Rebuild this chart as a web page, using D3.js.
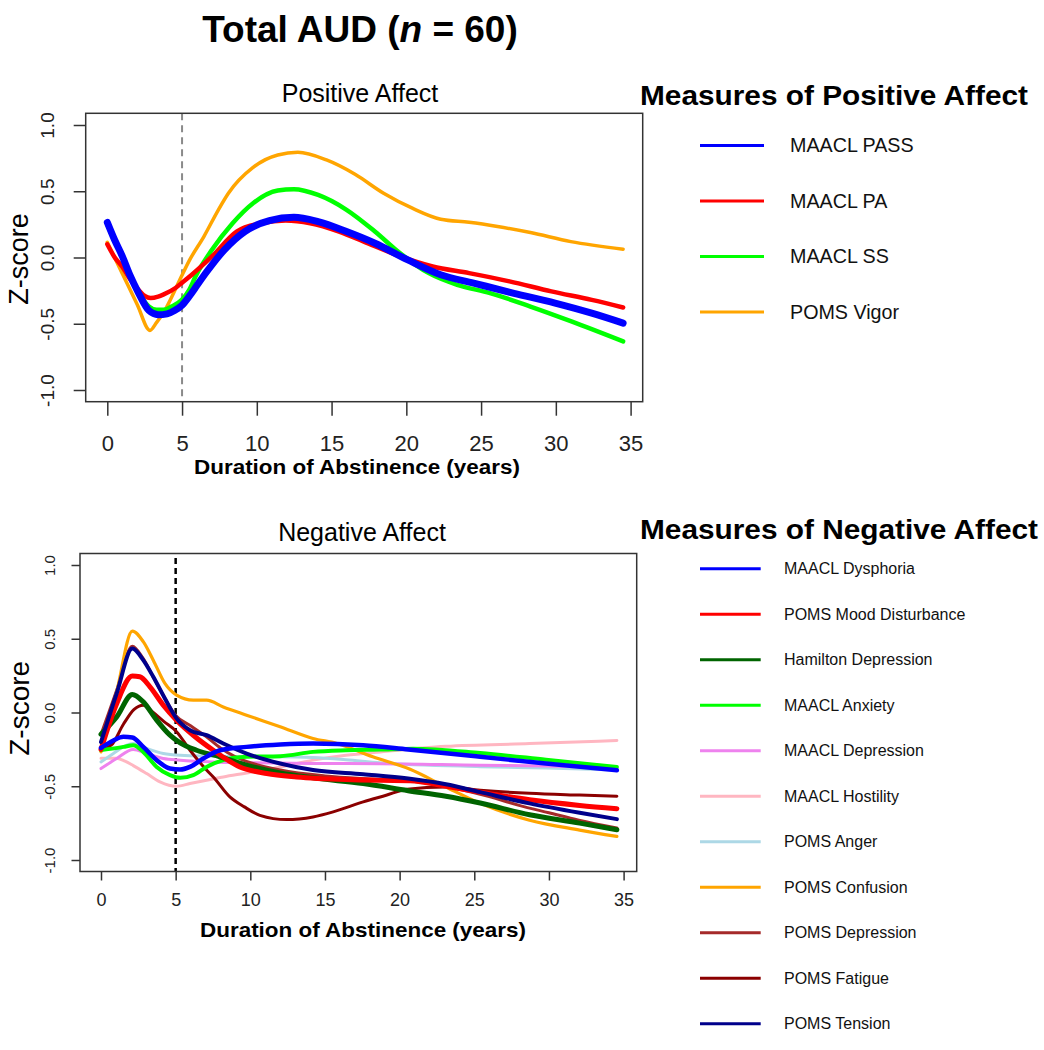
<!DOCTYPE html>
<html><head><meta charset="utf-8">
<script src="https://cdn.jsdelivr.net/npm/d3@7"></script>
<style>body{margin:0;background:#fff} svg text{font-family:"Liberation Sans",Arial,Helvetica,sans-serif}</style>
</head><body><svg id="c" width="1044" height="1050"></svg>
<script>
// ---------- data ----------
const xTicks = [0, 5, 10, 15, 20, 25, 30, 35];
const yTicks = [-1, -0.5, 0, 0.5, 1];
const abstinenceMark = 5;

// Positive affect series: [years, z]
const maaclPASS = [[0,0.265],[0.5,0.13],[1,0.01],[1.5,-0.13],[2.1,-0.27],[2.78,-0.40],[3.4,-0.432],[4.0,-0.425],[4.5,-0.40],[5.0,-0.36],[5.5,-0.29],[6.0,-0.21],[6.5,-0.13],[7.0,-0.055],[7.83,0.058],[9.2,0.196],[10.84,0.279],[12.48,0.304],[14.1,0.271],[16.0,0.196],[17.9,0.108],[20.1,-0.018],[22.3,-0.13],[24.5,-0.193],[27.2,-0.27],[29.95,-0.344],[32.4,-0.42],[34.5,-0.495]];
const maaclPA = [[0,0.1],[0.5,0.0],[1,-0.07],[1.5,-0.16],[2.1,-0.245],[2.5,-0.29],[2.9,-0.306],[3.4,-0.295],[3.74,-0.28],[4.56,-0.23],[5.0,-0.19],[5.65,-0.13],[7.0,0.008],[8.65,0.196],[10.3,0.259],[11.93,0.279],[13.57,0.259],[15.5,0.196],[17.4,0.108],[19.6,0.008],[21.76,-0.068],[24.2,-0.118],[26.9,-0.18],[29.7,-0.256],[32.4,-0.32],[34.5,-0.377]];
const maaclSS = [[0,0.25],[0.5,0.12],[1,0.0],[1.83,-0.22],[2.4,-0.32],[2.78,-0.37],[3.3,-0.395],[3.74,-0.395],[4.3,-0.37],[4.98,-0.32],[5.5,-0.24],[5.9,-0.143],[7.0,0.058],[8.38,0.259],[9.75,0.41],[11.4,0.505],[12.48,0.515],[14.1,0.472],[16.0,0.36],[17.9,0.196],[19.57,0.033],[21.5,-0.118],[23.4,-0.206],[25.6,-0.269],[28.3,-0.37],[31.04,-0.482],[34.5,-0.633]];
const pomsVigor = [[0,0.115],[1.0,-0.12],[2.0,-0.355],[2.85,-0.55],[3.3,-0.49],[3.74,-0.42],[4.3,-0.3],[4.97,-0.14],[5.5,-0.02],[6.47,0.16],[7.43,0.36],[8.1,0.485],[9.75,0.68],[11.4,0.774],[12.75,0.794],[14.66,0.736],[16.57,0.628],[18.48,0.485],[20.4,0.372],[22.3,0.289],[24.2,0.266],[26.1,0.234],[28.3,0.188],[31.0,0.12],[34.5,0.063]];

const posNames = ["MAACL PASS", "MAACL PA", "MAACL SS", "POMS Vigor"];
const posSeries = [maaclPASS, maaclPA, maaclSS, pomsVigor];

// Negative affect series: [years, z]
const maaclDysphoria = [[0,-0.24],[0.83,-0.19],[1.5,-0.165],[2.1,-0.17],[2.83,-0.233],[3.73,-0.323],[4.62,-0.38],[5.3,-0.387],[5.96,-0.369],[6.85,-0.312],[7.97,-0.256],[9.75,-0.233],[12,-0.217],[14.2,-0.21],[17.56,-0.222],[20.57,-0.251],[25.4,-0.30],[29.8,-0.346],[34.55,-0.392]];
const pomsMoodDisturbance = [[0,-0.25],[1.05,0.06],[2.1,0.247],[2.6,0.242],[3.28,0.174],[4.17,0.05],[5.06,-0.052],[6.18,-0.154],[7.52,-0.256],[9.3,-0.369],[11.1,-0.414],[13.1,-0.437],[16.4,-0.455],[18.67,-0.46],[20.7,-0.462],[23.1,-0.5],[25.4,-0.54],[28.7,-0.592],[32.06,-0.63],[34.55,-0.652]];
const hamiltonDepression = [[0,-0.147],[1.05,-0.03],[2.1,0.122],[2.83,0.072],[3.73,-0.052],[4.62,-0.154],[5.3,-0.206],[6.4,-0.256],[7.97,-0.3],[9.75,-0.357],[12,-0.41],[14.2,-0.443],[17.56,-0.482],[20.57,-0.53],[23.1,-0.568],[25.4,-0.614],[28.7,-0.693],[32.06,-0.75],[34.55,-0.795]];
const maaclAnxiety = [[0,-0.255],[1.5,-0.233],[2.16,-0.222],[2.83,-0.267],[3.73,-0.369],[4.62,-0.425],[5.3,-0.443],[6.18,-0.425],[7.07,-0.369],[8.19,-0.323],[9.75,-0.30],[12,-0.296],[14.2,-0.267],[16.4,-0.256],[18.7,-0.251],[20.9,-0.245],[25.4,-0.275],[29.8,-0.32],[34.55,-0.37]];
const maaclDepression = [[0,-0.38],[1.05,-0.312],[2.16,-0.25],[3.06,-0.278],[4.17,-0.312],[5.3,-0.323],[7.5,-0.335],[9.75,-0.34],[14.2,-0.346],[18.67,-0.347],[25.4,-0.357],[29.8,-0.362],[34.55,-0.375]];
const maaclHostility = [[0,-0.31],[1.0,-0.31],[1.6,-0.33],[2.16,-0.36],[3.06,-0.414],[3.95,-0.47],[5.06,-0.5],[5.96,-0.482],[7.07,-0.459],[8.19,-0.437],[9.75,-0.41],[12,-0.369],[14.2,-0.323],[16.4,-0.29],[18.7,-0.267],[23.1,-0.229],[28.7,-0.211],[34.55,-0.19]];
const pomsAnger = [[0,-0.335],[0.83,-0.278],[1.5,-0.233],[2.16,-0.21],[3.06,-0.244],[4.17,-0.278],[5.3,-0.29],[7.5,-0.296],[9.75,-0.30],[12,-0.30],[14.2,-0.305],[16.4,-0.32],[18.67,-0.34],[25.4,-0.367],[29.8,-0.377],[34.55,-0.39]];
const pomsConfusion = [[0,-0.267],[1.05,0.14],[2.1,0.552],[2.83,0.48],[3.5,0.355],[4.28,0.197],[5.06,0.118],[6.18,0.084],[7.07,0.084],[8.19,0.038],[9.75,-0.018],[12,-0.097],[14.2,-0.176],[15.8,-0.21],[18.2,-0.30],[20.7,-0.385],[23.1,-0.505],[25.4,-0.616],[28.7,-0.73],[32.06,-0.797],[34.55,-0.84]];
const pomsDepression = [[0,-0.15],[1.05,0.15],[2.1,0.45],[2.8,0.37],[3.5,0.24],[4.2,0.11],[5.0,-0.02],[6.0,-0.09],[7.0,-0.16],[8.0,-0.24],[9.0,-0.30],[10.0,-0.34],[12.0,-0.39],[15.0,-0.43],[18.0,-0.45],[20.0,-0.46],[22.0,-0.48],[24.0,-0.52],[26.0,-0.57],[28.0,-0.63],[30.0,-0.68],[32.0,-0.73],[34.55,-0.783]];
const pomsFatigue = [[0,-0.25],[0.7,-0.22],[1.5,-0.08],[2.2,0.02],[2.83,0.05],[3.5,0.0],[4.2,-0.06],[5.06,-0.13],[5.96,-0.256],[7.07,-0.39],[7.52,-0.437],[8.63,-0.572],[9.6,-0.64],[10.64,-0.697],[12.43,-0.726],[14.2,-0.708],[15.55,-0.674],[17.56,-0.606],[19.1,-0.561],[20.5,-0.52],[23.1,-0.505],[25.4,-0.527],[28.7,-0.548],[32.06,-0.56],[34.55,-0.568]];
const pomsTension = [[0,-0.2],[1.05,0.13],[2.1,0.434],[2.83,0.355],[3.5,0.242],[4.28,0.095],[5.06,-0.04],[5.96,-0.12],[7.07,-0.154],[8.19,-0.21],[9.75,-0.278],[12,-0.346],[14.2,-0.39],[17.56,-0.419],[20.57,-0.448],[23.1,-0.487],[25.4,-0.54],[28.7,-0.616],[32.06,-0.68],[34.55,-0.723]];

const negNames = ["MAACL Dysphoria", "POMS Mood Disturbance", "Hamilton Depression", "MAACL Anxiety", "MAACL Depression", "MAACL Hostility", "POMS Anger", "POMS Confusion", "POMS Depression", "POMS Fatigue", "POMS Tension"];
const negSeries = [maaclDysphoria, pomsMoodDisturbance, hamiltonDepression, maaclAnxiety, maaclDepression, maaclHostility, pomsAnger, pomsConfusion, pomsDepression, pomsFatigue, pomsTension];

// ---------- styles ----------
const posColors = ["#0000ff", "#ff0000", "#00ff00", "#ffa500"];
const posWidths = [7, 4.5, 4.5, 3.5];
const posOrder = [3, 2, 1, 0];
const negColors = ["#0000ff", "#ff0000", "#006400", "#00ff00", "#ee82ee", "#ffb6c1", "#add8e6", "#ffa500", "#a52a2a", "#8b0000", "#00008b"];
const negWidths = [4.5, 5, 5, 4, 3, 3, 3, 3.2, 3, 3, 4];
const negOrder = [5, 6, 4, 9, 8, 7, 3, 2, 1, 10, 0];

const svg = d3.select("#c");
svg.append("rect").attr("width", 1044).attr("height", 1050).attr("fill", "#fff");

// main title
const t = svg.append("text").attr("x", 360).attr("y", 41.7).attr("text-anchor", "middle")
  .attr("font-size", 37).attr("font-weight", "bold").attr("fill", "#000");
t.append("tspan").text("Total AUD (");
t.append("tspan").attr("font-style", "italic").text("n");
t.append("tspan").text(" = 60)");

function panel(o) {
  const g = svg.append("g");
  const x = d3.scaleLinear().domain([0, 35]).range([o.x0, o.x1]);
  const y = d3.scaleLinear().domain([-1, 1]).range([o.y0, o.y1]);

  // title
  g.append("text").attr("x", o.titleX).attr("y", o.titleY).attr("text-anchor", "middle")
    .attr("font-size", 25).attr("fill", "#000").text(o.title);

  // x axis
  const xa = g.append("g").attr("transform", `translate(0,${o.by1})`)
    .call(d3.axisBottom(x).tickValues(xTicks).tickSize(o.xTick).tickPadding(o.xPad).tickSizeOuter(0));
  xa.select(".domain").remove();
  xa.selectAll(".tick line").attr("stroke", "#333").attr("stroke-width", 1.5);
  xa.selectAll(".tick text").attr("font-size", o.xFs).attr("fill", "#222")
    .attr("font-family", '"Liberation Sans",Arial,sans-serif');

  // y axis
  const ya = g.append("g").attr("transform", `translate(${o.bx0},0)`)
    .call(d3.axisLeft(y).tickValues(yTicks).tickSize(o.yTick).tickSizeOuter(0).tickFormat(d => d.toFixed(1)));
  ya.select(".domain").remove();
  ya.selectAll(".tick line").attr("stroke", "#333").attr("stroke-width", 1.5);
  ya.selectAll(".tick text").attr("x", null).attr("dy", null).attr("text-anchor", "middle")
    .attr("font-size", o.yFs).attr("fill", "#222").attr("font-family", '"Liberation Sans",Arial,sans-serif')
    .attr("transform", `translate(${o.yLabX - o.bx0 + 0.358 * o.yFs},0) rotate(-90)`);

  // axis titles
  g.append("text").attr("transform", `translate(${o.zX + 0.358 * o.zFs},${o.zY}) rotate(-90)`)
    .attr("text-anchor", "middle").attr("font-size", o.zFs).attr("fill", "#000").text("Z-score");
  g.append("text").attr("x", o.xtX).attr("y", o.xtY).attr("text-anchor", "middle")
    .attr("font-size", o.xtFs).attr("font-weight", "bold").attr("fill", "#000")
    .attr("textLength", 326).attr("lengthAdjust", "spacingAndGlyphs")
    .text("Duration of Abstinence (years)");

  // dashed line
  g.append("line").attr("x1", x(abstinenceMark)).attr("x2", x(abstinenceMark))
    .attr("y1", o.dashTop).attr("y2", o.by1).attr("stroke", o.dashColor)
    .attr("stroke-width", o.dashW).attr("stroke-dasharray", o.dash);

  // series
  const line = d3.line().x(d => x(d[0])).y(d => y(d[1])).curve(d3.curveMonotoneX);
  o.order.forEach(i => {
    g.append("path").datum(o.series[i]).attr("d", line).attr("fill", "none")
      .attr("stroke", o.colors[i]).attr("stroke-width", o.widths[i])
      .attr("stroke-linejoin", "round").attr("stroke-linecap", "round");
  });

  // box
  g.append("rect").attr("x", o.bx0).attr("y", o.by0).attr("width", o.bx1 - o.bx0)
    .attr("height", o.by1 - o.by0).attr("fill", "none").attr("stroke", "#333").attr("stroke-width", 1.5);

  // legend
  const lg = svg.append("g");
  lg.append("text").attr("x", o.legX).attr("y", o.legTitleY).attr("font-size", o.legTitleFs)
    .attr("font-weight", "bold").attr("fill", "#000")
    .attr("textLength", o.legTitleW).attr("lengthAdjust", "spacingAndGlyphs").text(o.legTitle);
  const ly = d3.scaleLinear().domain([0, 1]).range([o.legY0, o.legY0 + o.legStep]);
  const items = lg.selectAll("g.item").data(o.names).join("g").attr("class", "item")
    .attr("transform", (d, i) => `translate(0,${ly(i)})`);
  items.append("line").attr("x1", 700).attr("x2", o.legLineX2).attr("y1", 0).attr("y2", 0)
    .attr("stroke", (d, i) => o.colors[i]).attr("stroke-width", 3);
  items.append("text").attr("x", o.legTextX).attr("y", 0).attr("dy", "0.35em")
    .attr("font-size", o.legFs).attr("fill", "#111").text(d => d);
}

panel({
  title: "Positive Affect", titleX: 360, titleY: 102,
  x0: 107.3, x1: 630.6, y0: 390, y1: 125,
  bx0: 85.7, bx1: 642.7, by0: 113.3, by1: 401.7,
  xTick: 14, xPad: 19.6, xFs: 22, yTick: 12, yFs: 19, yLabX: 47,
  zX: 18, zY: 259, zFs: 27, xtX: 357, xtY: 474, xtFs: 20,
  dashTop: 113.3, dashColor: "#8a8a8a", dashW: 2, dash: "7,5",
  series: posSeries, colors: posColors, widths: posWidths, order: posOrder, names: posNames,
  legX: 640, legTitleY: 105, legTitleFs: 27, legTitleW: 388, legTitle: "Measures of Positive Affect",
  legY0: 145.5, legStep: 55.5, legLineX2: 764, legTextX: 790, legFs: 19.7
});

panel({
  title: "Negative Affect", titleX: 362, titleY: 540.7,
  x0: 101, x1: 623.6, y0: 860, y1: 565,
  bx0: 80, bx1: 636.7, by0: 553.5, by1: 871.5,
  xTick: 9, xPad: 13.1, xFs: 18, yTick: 8.5, yFs: 15, yLabX: 50,
  zX: 19, zY: 708.3, zFs: 28, xtX: 363, xtY: 937, xtFs: 21,
  dashTop: 558, dashColor: "#000", dashW: 2.5, dash: "6,4",
  series: negSeries, colors: negColors, widths: negWidths, order: negOrder, names: negNames,
  legX: 640, legTitleY: 539, legTitleFs: 28, legTitleW: 398, legTitle: "Measures of Negative Affect",
  legY0: 568.7, legStep: 45.5, legLineX2: 760.7, legTextX: 784, legFs: 16
});
</script>
</body></html>
